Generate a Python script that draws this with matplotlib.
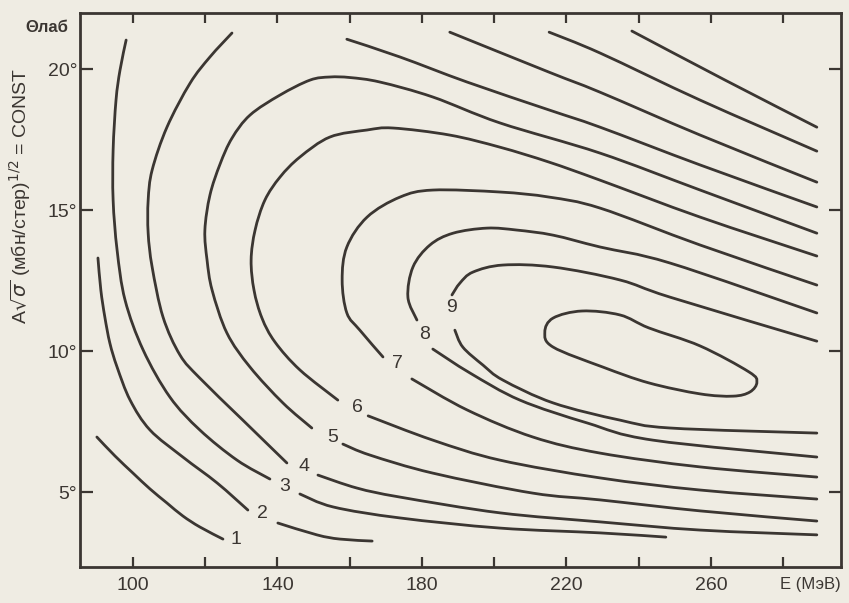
import matplotlib
matplotlib.use("Agg")
import matplotlib.pyplot as plt
from matplotlib.path import Path
from matplotlib.patches import PathPatch

# contour lines: (E in MeV, theta_lab in degrees)
# labelled curves are split where the number sits
c1 = ([90.0, 95.0, 100.0, 104.7, 109.4, 113.8, 118.5, 124.9],
      [6.95, 6.28, 5.67, 5.11, 4.61, 4.15, 3.76, 3.33])

c2_left = ([90.3, 91.1, 92.2, 93.6, 95.6, 99.2, 104.7, 113.8, 123.3, 131.8],
           [13.30, 12.16, 11.21, 10.28, 9.43, 8.26, 7.20, 6.24, 5.32, 4.36])
c2_right = ([140.1, 150.9, 157.3, 166.2],
            [3.90, 3.48, 3.33, 3.26])

c3_left = ([98.1, 96.4, 95.3, 94.5, 94.5, 95.6, 97.8, 102.8, 110.2, 118.5, 128.8, 137.9],
           [21.03, 19.96, 18.90, 17.13, 15.35, 13.58, 11.81, 10.04, 8.37, 7.20, 6.13, 5.46])
c3_right = ([146.2, 155.4, 173.9, 201.6, 229.3, 247.5],
            [4.93, 4.47, 4.08, 3.72, 3.55, 3.40])

c4_left = ([127.4, 121.3, 115.8, 109.4, 105.3, 104.2, 104.2, 105.3, 108.3, 113.0, 118.5, 130.4, 142.6],
           [21.28, 20.43, 19.50, 17.94, 16.42, 15.35, 14.18, 12.98, 11.21, 9.86, 9.04, 7.55, 6.03])
c4_right = ([151.2, 162.0, 173.9, 201.6, 229.3, 257.0, 289.3],
            [5.60, 5.14, 4.82, 4.26, 3.94, 3.65, 3.48])

c5_left = ([289.3, 257.0, 229.3, 201.6, 183.0, 168.4, 160.1, 154.5, 149.0, 140.7, 132.4, 127.4,
            124.1, 121.3, 119.9, 120.5, 121.9, 126.0, 132.4, 141.5, 149.5],
           [14.18, 15.71, 17.02, 18.09, 19.01, 19.54, 19.70, 19.72, 19.61, 19.08, 18.37, 17.55,
            16.63, 15.53, 14.29, 13.23, 12.16, 10.64, 9.43, 8.16, 7.27])
c5_right = ([158.1, 165.6, 183.0, 210.7, 229.3, 257.0, 289.3],
            [6.70, 6.31, 5.67, 4.96, 4.72, 4.33, 3.97])

c6_left = ([289.3, 257.0, 229.3, 215.2, 201.6, 187.7, 172.0, 164.8, 154.5, 146.2, 140.7, 136.5,
            133.8, 132.7, 133.5, 135.7, 139.3, 146.2, 156.7],
           [13.37, 14.75, 16.06, 16.70, 17.23, 17.66, 17.91, 17.84, 17.59, 16.88, 16.17, 15.35,
            14.29, 13.23, 12.16, 11.17, 10.32, 9.33, 8.26])
c6_right = ([165.1, 183.0, 201.6, 229.3, 257.0, 289.3],
            [7.70, 6.84, 6.13, 5.50, 5.07, 4.75])

c7_left = ([289.3, 257.0, 229.3, 215.2, 201.6, 183.0, 173.9, 164.8, 159.2, 157.9, 159.2, 162.8, 169.2],
           [12.34, 13.76, 15.07, 15.46, 15.64, 15.71, 15.46, 14.75, 13.69, 12.52, 11.35, 10.74, 9.79])
c7_right = ([177.2, 192.5, 210.7, 229.3, 257.0, 289.3],
            [9.01, 7.91, 6.95, 6.38, 5.89, 5.53])

c8_left = ([289.3, 248.7, 229.3, 216.3, 206.3, 198.0, 188.6, 182.2, 177.5, 176.1, 178.6],
           [11.35, 13.12, 13.69, 14.11, 14.29, 14.36, 14.18, 13.76, 12.98, 11.91, 11.10])
c8_right = ([183.0, 193.3, 207.1, 225.7, 243.9, 289.3],
            [10.07, 9.22, 8.26, 7.45, 6.84, 6.24])

c9_left = ([289.3, 248.7, 234.8, 216.3, 202.4, 194.1, 190.5, 188.3],
           [10.35, 11.91, 12.52, 12.98, 13.05, 12.80, 12.41, 11.99])
c9_right = ([189.1, 191.3, 196.9, 202.4, 216.3, 234.8, 248.7, 289.3],
            [10.74, 10.14, 9.50, 8.97, 8.16, 7.55, 7.27, 7.09])

# closed loop around the maximum
loop = ([214.0, 216.3, 224.3, 234.8, 242.8, 257.0, 270.5, 272.7, 270.8, 266.1, 257.0, 242.8, 230.1, 216.3],
        [10.67, 11.17, 11.42, 11.28, 10.82, 10.18, 9.26, 8.90, 8.55, 8.40, 8.48, 8.87, 9.43, 10.14])

# straight-ish lines in the upper right corner
u1 = ([159.2, 173.9, 192.5, 215.2, 229.3, 257.0, 289.3],
      [21.06, 20.43, 19.54, 18.55, 17.94, 16.60, 15.11])
u2 = ([187.7, 215.2, 229.3, 257.0, 289.3],
      [21.31, 19.89, 19.18, 17.66, 15.99])
u3 = ([215.2, 229.3, 257.0, 289.3],
      [21.31, 20.57, 18.90, 17.09])
u4 = ([238.1, 263.9, 289.3],
      [21.35, 19.61, 17.94])

label_text = ["1", "2", "3", "4", "5", "6", "7", "8", "9"]
label_e = [128.5, 135.7, 142.1, 147.3, 155.4, 162.0, 173.1, 180.8, 188.3]
label_theta = [3.33, 4.22, 5.18, 5.89, 6.95, 7.98, 9.57, 10.57, 11.56]

x_ticks = [100, 120, 140, 160, 180, 200, 220, 240, 260, 280]
x_ticklabels = ["100", "", "140", "", "180", "", "220", "", "260", ""]
y_ticks = [5, 10, 15, 20]
y_ticklabels = ["5°", "10°", "15°", "20°"]

paper = "#efece3"
ink = "#3b3632"


def smooth_path(xs, ys, closed=False):
    """Bezier path through the read points (Catmull-Rom tangents)."""
    pts = list(zip(xs, ys))
    n = len(pts)
    verts = [pts[0]]
    codes = [Path.MOVETO]
    last = n if closed else n - 1
    for i in range(last):
        if closed:
            p0, p1 = pts[(i - 1) % n], pts[i]
            p2, p3 = pts[(i + 1) % n], pts[(i + 2) % n]
        else:
            p0 = pts[max(i - 1, 0)]
            p1 = pts[i]
            p2 = pts[i + 1]
            p3 = pts[min(i + 2, n - 1)]
        c1 = (p1[0] + (p2[0] - p0[0]) / 6, p1[1] + (p2[1] - p0[1]) / 6)
        c2 = (p2[0] - (p3[0] - p1[0]) / 6, p2[1] - (p3[1] - p1[1]) / 6)
        verts += [c1, c2, p2]
        codes += [Path.CURVE4] * 3
    return Path(verts, codes)


plt.rcParams["font.family"] = ["Liberation Sans", "DejaVu Sans"]

fig = plt.figure(figsize=(8.49, 6.03), dpi=100)
fig.patch.set_facecolor(paper)
ax = fig.add_axes([80 / 849, 36 / 603, 761 / 849, 554 / 603])
ax.set_facecolor(paper)

segments = [c1, c2_left, c2_right, c3_left, c3_right, c4_left, c4_right,
            c5_left, c5_right, c6_left, c6_right, c7_left, c7_right,
            c8_left, c8_right, c9_left, c9_right, u1, u2, u3, u4]
for e, th in segments:
    ax.add_patch(PathPatch(smooth_path(e, th), fill=False, edgecolor=ink,
                           lw=2.0, capstyle="round", joinstyle="round"))
ax.add_patch(PathPatch(smooth_path(loop[0], loop[1], closed=True), fill=False,
                       edgecolor=ink, lw=2.0, joinstyle="round"))

for txt, e, th in zip(label_text, label_e, label_theta):
    ax.text(e, th, txt, ha="center", va="center", fontsize=14, color=ink)

ax.set_xlim(85.33, 295.99)
ax.set_ylim(2.34, 21.99)

ax.set_xticks(x_ticks)
ax.set_xticklabels(x_ticklabels)
ax.set_yticks(y_ticks)
ax.set_yticklabels(y_ticklabels)
ax.tick_params(axis="x", direction="in", length=7, width=1.6, color=ink,
               labelsize=14, labelcolor=ink, top=True, pad=7)
ax.tick_params(axis="y", direction="in", length=9, width=1.6, color=ink,
               labelsize=14, labelcolor=ink, right=True, pad=2)
for sp in ax.spines.values():
    sp.set_color(ink)
    sp.set_linewidth(2.0)

fig.text(0.024, 0.675, r"A$\sqrt{\sigma}$ (мбн/стер)$^{1/2}$ = CONST", rotation=90,
         ha="center", va="center", fontsize=14, color=ink)
fig.text(0.030, 0.955, "Θлаб", fontsize=12, color=ink, ha="left", va="center",
         fontweight="bold")
fig.text(0.990, 0.030, "E (МэВ)", fontsize=12, color=ink, ha="right", va="center")

fig.savefig("out.png", dpi=100, facecolor=paper)
